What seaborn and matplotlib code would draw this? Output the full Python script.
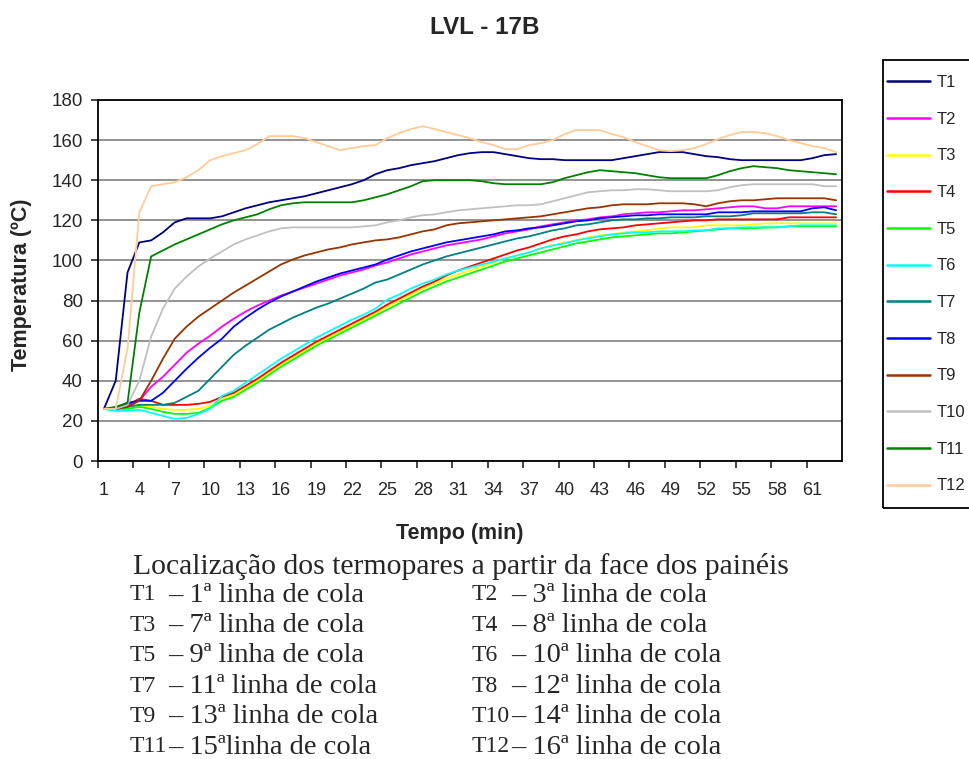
import numpy as np
import pandas as pd
import matplotlib
matplotlib.use("Agg")
import matplotlib.pyplot as plt
from matplotlib.patches import Rectangle
import seaborn as sns

minutes = list(range(1, 64))

T1 = [26, 40, 94, 109, 110, 114, 119, 121, 121, 121,
      122, 124, 126, 127.5, 129, 130, 131, 132, 133.5, 135,
      136.5, 138, 140, 143, 145, 146, 147.5, 148.5, 149.5, 151,
      152.5, 153.5, 154, 154, 153, 152, 151, 150.5, 150.5, 150,
      150, 150, 150, 150, 151, 152, 153, 154, 154, 154,
      153, 152, 151.5, 150.5, 150, 150, 150, 150, 150, 150,
      151, 152.5, 153]
T2 = [26, 26, 28, 30, 37, 42, 48, 54, 58.5, 62.5,
      67, 71, 74.5, 77.5, 80, 82.5, 84.5, 86.5, 88.5, 90.5,
      92.5, 94, 95.5, 97.5, 99, 101, 103, 104.5, 106, 107.5,
      108.5, 109.5, 110.5, 112, 113.5, 114.5, 115.5, 117, 118, 119,
      120, 120.5, 121.5, 122, 123, 123.5, 124, 124, 124.5, 125,
      125, 125.5, 126, 126.5, 127, 127, 126, 126, 127, 127,
      127, 127, 127]
T3 = [26, 26, 27, 28, 27, 26, 25.5, 25.5, 26, 27.5,
      31, 33, 36.5, 40, 44, 48, 51.5, 55, 58.5, 61.5,
      64.5, 67.5, 70.5, 73.5, 77, 80, 83, 86, 88.5, 91,
      93, 95, 97, 99, 101, 102.5, 104, 106, 107.5, 109,
      110, 111.5, 112.5, 113, 114, 114.5, 115, 116, 116.5, 116.5,
      116.5, 117.5, 117.5, 117.5, 117.5, 118, 118.5, 118.5, 118.5, 118.5,
      118.5, 118.5, 118.5]
T4 = [26, 26, 28, 31, 30, 28, 28, 28, 28.5, 29.5,
      32, 34, 37.5, 41, 45, 49, 52.5, 56, 59.5, 62.5,
      65.5, 68.5, 71.5, 74.5, 78, 81, 84, 87, 89.5, 92.5,
      95, 97, 99, 101, 103, 105, 106.5, 108.5, 110.5, 112,
      113, 114.5, 115.5, 116, 116.5, 117.5, 118, 118.5, 119, 119.5,
      120, 120, 120.5, 120.5, 120.5, 120.5, 120.5, 120.5, 121.5, 121.5,
      121.5, 121.5, 121.5]
T5 = [26, 26, 26, 27, 26, 24.5, 23.5, 23.5, 24, 26.5,
      30, 32, 35.5, 39, 43, 47, 50.5, 54, 57.5, 60.5,
      63.5, 66.5, 69.5, 72.5, 75.5, 78.5, 81.5, 84.5, 87, 89.5,
      91.5, 93.5, 95.5, 97.5, 99.5, 101, 102.5, 104, 105.5, 107,
      108.5, 109.5, 110.5, 111.5, 112, 112.5, 113, 113.5, 113.5, 114,
      114.5, 115, 115.5, 116, 116, 116, 116.5, 116.5, 117, 117,
      117, 117, 117]
T6 = [26, 25, 25, 25.5, 24, 22.5, 21, 21.5, 23.5, 26,
      32.5, 35, 39, 43, 47, 51, 54.5, 58, 61.5, 64.5,
      67.5, 70.5, 73, 76, 80.5, 83, 86, 88.5, 90.5, 93,
      95, 96.5, 98, 99.5, 101, 102.5, 104, 106, 107.5, 108.5,
      110, 111, 112, 113, 113.5, 114, 114, 114.5, 114.5, 114.5,
      115, 115, 116, 116, 116.5, 116.5, 116.5, 116.5, 117, 117.5,
      117.5, 117.5, 117.5]
T7 = [26, 26, 27, 28, 28, 28, 29, 32, 35, 41,
      47, 53, 57.5, 61.5, 65.5, 68.5, 71.5, 74, 76.5, 78.5,
      81, 83.5, 86, 89, 90.5, 93, 95.5, 98, 100, 102,
      103.5, 105, 106.5, 108, 109.5, 111, 112, 113.5, 115, 116,
      117.5, 118, 119, 120, 120.5, 120.5, 121, 121, 121.5, 121.5,
      121.5, 122, 122, 122, 122.5, 123.5, 123.5, 123.5, 123.5, 123.5,
      124, 124, 123]
T8 = [26, 26, 29, 30, 30, 34, 40, 46, 51.5, 56.5,
      61, 67, 71.5, 75.5, 79, 82, 84.5, 87, 89.5, 91.5,
      93.5, 95, 96.5, 98, 100.5, 102.5, 104.5, 106, 107.5, 109,
      110, 111, 112, 113, 114.5, 115, 116, 116.5, 117.5, 118.5,
      119.5, 120, 121, 121.5, 122, 122.5, 122.5, 123, 123, 123,
      123, 123, 124, 124, 124, 124.5, 124.5, 124.5, 124.5, 124.5,
      126, 126.5, 125]
T9 = [26, 26, 27, 30, 40, 51, 61, 67, 72, 76,
      80, 84, 87.5, 91, 94.5, 98, 100.5, 102.5, 104, 105.5,
      106.5, 108, 109, 110, 110.5, 111.5, 113, 114.5, 115.5, 117.5,
      118.5, 119, 119.5, 120, 120.5, 121, 121.5, 122, 123, 124,
      125, 126, 126.5, 127.5, 128, 128, 128, 128.5, 128.5, 128.5,
      128, 127, 128.5, 129.5, 130, 130, 130.5, 131, 131, 131,
      131, 131, 130]
T10 = [26, 26, 28, 40, 62, 76, 86, 92, 97, 101,
       104.5, 108, 110.5, 112.5, 114.5, 116, 116.5, 116.5, 116.5, 116.5,
       116.5, 116.5, 117, 117.5, 119, 120, 121.5, 122.5, 123, 124,
       125, 125.5, 126, 126.5, 127, 127.5, 127.5, 128, 129.5, 131,
       132.5, 134, 134.5, 135, 135, 135.5, 135.5, 135, 134.5, 134.5,
       134.5, 134.5, 135, 136.5, 137.5, 138, 138, 138, 138, 138,
       138, 137, 137]
T11 = [26, 27, 29, 74, 102, 105, 108, 110.5, 113, 115.5,
       118, 120, 121.5, 123, 125.5, 127.5, 128.5, 129, 129, 129,
       129, 129, 130, 131.5, 133, 135, 137, 139.5, 140, 140,
       140, 140, 139.5, 138.5, 138, 138, 138, 138, 139, 141,
       142.5, 144, 145, 144.5, 144, 143.5, 142.5, 141.5, 141, 141,
       141, 141, 142.5, 144.5, 146, 147, 146.5, 146, 145, 144.5,
       144, 143.5, 143]
T12 = [26, 26, 56, 124, 137, 138, 139, 141.5, 145, 150,
       152, 153.5, 155, 158, 162, 162, 162, 161, 159, 157,
       155, 156, 157, 157.5, 161, 163.5, 165.5, 167, 165.5, 164,
       162.5, 161, 159, 157.5, 155.5, 155.5, 157.5, 158.5, 160, 163,
       165, 165, 165, 163, 161.5, 159, 157, 155, 154.5, 155,
       156, 158, 160.5, 162.5, 164, 164, 163.5, 162, 160, 158.5,
       157, 156, 154]

names = ["T1", "T2", "T3", "T4", "T5", "T6", "T7", "T8", "T9", "T10", "T11", "T12"]
colors = ["#000080", "#FF00FF", "#FFFF00", "#FF0000", "#00FF00", "#00FFFF",
          "#008080", "#0000FF", "#993300", "#C0C0C0", "#008000", "#FFCC99"]

rodape_titulo = "Localização dos termopares a partir da face dos painéis"
rodape = [("T1", "– 1ª linha de cola", "T2", "– 3ª linha de cola"),
          ("T3", "– 7ª linha de cola", "T4", "– 8ª linha de cola"),
          ("T5", "– 9ª linha de cola", "T6", "– 10ª linha de cola"),
          ("T7", "– 11ª linha de cola", "T8", "– 12ª linha de cola"),
          ("T9", "– 13ª linha de cola", "T10", "– 14ª linha de cola"),
          ("T11", "– 15ªlinha de cola", "T12", "– 16ª linha de cola")]

wide = pd.DataFrame({"Tempo": minutes, "T1": T1, "T2": T2, "T3": T3, "T4": T4,
                     "T5": T5, "T6": T6, "T7": T7, "T8": T8, "T9": T9,
                     "T10": T10, "T11": T11, "T12": T12})
df = wide.melt(id_vars="Tempo", var_name="Termopar", value_name="Temperatura")

sns.set_style("white")
plt.rcParams["font.family"] = ["Liberation Sans", "DejaVu Sans"]

W, H = 970, 759
fig = plt.figure(figsize=(9.7, 7.59), dpi=100)
ax = fig.add_axes([98 / W, 1 - 461 / H, 744 / W, 361 / H])

sns.lineplot(data=df, x="Tempo", y="Temperatura", hue="Termopar", hue_order=names,
             palette=dict(zip(names, colors)), linewidth=1.3, ax=ax, legend=False)

ax.set_xlim(0.5, 63.5)
ax.set_ylim(0, 180)
ax.set_yticks(range(0, 181, 20))
ax.yaxis.grid(True, color="#808080", linewidth=1.2)
ax.set_axisbelow(True)
ax.set_xticks(np.arange(0.5, 61, 3))
ax.set_xticks(np.arange(1, 62, 3), minor=True)
ax.set_xticklabels([])
ax.set_xticklabels([str(i) for i in range(1, 62, 3)], minor=True)
ax.tick_params(axis="x", which="major", length=5, width=1.2, direction="out", bottom=True)
ax.tick_params(axis="x", which="minor", length=0, pad=15, labelsize=13)
ax.tick_params(axis="y", length=5, width=1.2, direction="out", left=True, pad=6, labelsize=13.5)
for s in ax.spines.values():
    s.set_color("black")
    s.set_linewidth(1.3)
ax.set_xlabel("")
ax.set_ylabel("")

fig.text(485 / W, 1 - 28 / H, "LVL - 17B", ha="center", va="center", fontsize=17.5, weight="bold")
fig.text(460 / W, 1 - 533 / H, "Tempo (min)", ha="center", va="center", fontsize=15.5, weight="bold")
fig.text(22 / W, 1 - 285 / H, "Temperatura (ºC)", ha="center", va="center", rotation=90,
         fontsize=15.5, weight="bold")

# legend box (its right side runs past the figure edge, as in the original)
fig.patches.append(Rectangle((883 / W, 1 - 508 / H), 100 / W, 448 / H, transform=fig.transFigure,
                             fill=False, edgecolor="black", linewidth=1.3))
leg = fig.legend(ax.lines[:12], names, loc="upper left", bbox_to_anchor=(887 / W, 1 - 75 / H),
                 frameon=False, borderpad=0, borderaxespad=0,
                 handlelength=2.6, handletextpad=0.35, labelspacing=1.3, fontsize=12)
for h in leg.legend_handles:
    h.set_linewidth(1.8)

serif = ["Liberation Serif", "DejaVu Serif"]
fig.text(133 / W, 1 - 566 / H, rodape_titulo, ha="left", va="center", fontsize=21.3, family=serif)
for i, (a, b, c, d) in enumerate(rodape):
    y = 1 - (595 + 30.4 * i) / H
    fig.text(130 / W, y, a, ha="left", va="center", fontsize=17, family=serif)
    fig.text(168 / W, y, b, ha="left", va="center", fontsize=20.5, family=serif)
    fig.text(472 / W, y, c, ha="left", va="center", fontsize=17, family=serif)
    fig.text(511 / W, y, d, ha="left", va="center", fontsize=20.5, family=serif)

fig.savefig("out.png", dpi=100)
